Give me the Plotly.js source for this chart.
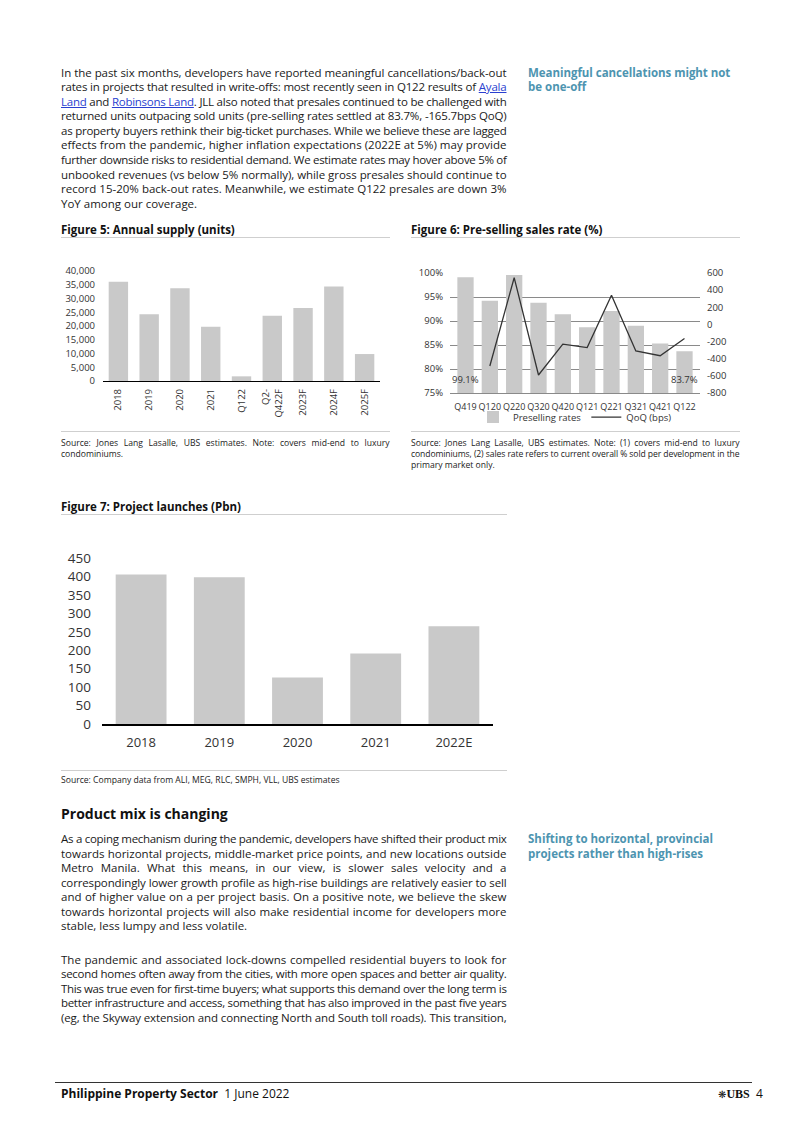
<!DOCTYPE html>
<html>
<head>
<meta charset="utf-8">
<script src="https://cdn.plot.ly/plotly-3.0.1.min.js"></script>
<style>
  html, body { margin:0; padding:0; background:#fff; }
  body { width:802px; height:1134px; position:relative; overflow:hidden; font-family:"Open Sans","Noto Sans",sans-serif; color:#1a1a1a; }
  .abs { position:absolute; }
  .para { position:absolute; font-size:11.5px; }
  .ln { height:14.55px; line-height:14.55px; white-space:nowrap; overflow:visible; }
  .ln > span { white-space:nowrap; }
  .side { position:absolute; font-size:11.5px; font-weight:700; color:#4d94b0; }
  .ftitle { position:absolute; font-size:11.5px; font-weight:700; color:#111; white-space:nowrap; }
  .rule { position:absolute; height:1.5px; background:#cfcfcf; }
  .src { position:absolute; font-size:8.6px; color:#222; }
  .src .ln { height:11px; line-height:11px; }
  a { color:#2a3fd0; text-decoration:underline; }
  .chart { position:absolute; }
</style>
</head>
<body>
<script>
// ---------------- DATA ----------------
const supplyCats = ['2018','2019','2020','2021','Q122','Q2-<br>Q422F','2023F','2024F','2025F'];
const supplyUnits = [36100, 24250, 33700, 19750, 1700, 23750, 26550, 34400, 9800];

const presellQuarters = ['Q419','Q120','Q220','Q320','Q420','Q121','Q221','Q321','Q421','Q122'];
const presellRates = [99.1, 94.2, 99.6, 93.8, 91.4, 88.7, 92.1, 89.0, 85.3, 83.7];
const qoqBps = [null, -485, 545, -590, -230, -270, 340, -310, -365, -165];
const qoqAxisTicks = [600, 400, 200, 0, -200, -400, -600, -800];

const launchYears = ['2018','2019','2020','2021','2022E'];
const launchPbn = [405, 398, 126, 191, 265];
</script>

<!-- Paragraph 1 -->
<div class="para" style="left:61px; top:65.7px; width:446px;">
  <div class="ln j"><span>In the past six months, developers have reported meaningful cancellations/back-out</span></div>
  <div class="ln j"><span>rates in projects that resulted in write-offs: most recently seen in Q122 results of <a>Ayala</a></span></div>
  <div class="ln j"><span><a>Land</a> and <a>Robinsons Land</a>. JLL also noted that presales continued to be challenged with</span></div>
  <div class="ln j"><span>returned units outpacing sold units (pre-selling rates settled at 83.7%, -165.7bps QoQ)</span></div>
  <div class="ln j"><span>as property buyers rethink their big-ticket purchases. While we believe these are lagged</span></div>
  <div class="ln j"><span>effects from the pandemic, higher inflation expectations (2022E at 5%) may provide</span></div>
  <div class="ln j"><span>further downside risks to residential demand. We estimate rates may hover above 5% of</span></div>
  <div class="ln j"><span>unbooked revenues (vs below 5% normally), while gross presales should continue to</span></div>
  <div class="ln j"><span>record 15-20% back-out rates. Meanwhile, we estimate Q122 presales are down 3%</span></div>
  <div class="ln"><span>YoY among our coverage.</span></div>
</div>
<div class="side" style="left:528px; top:65.7px; width:203px;">
  <div class="ln"><span>Meaningful cancellations might not</span></div>
  <div class="ln"><span>be one-off</span></div>
</div>

<!-- Figure 5 / 6 titles -->
<div class="ftitle" style="left:61px; top:222px;">Figure 5: Annual supply (units)</div>
<div class="rule" style="left:61px; top:236.5px; width:329px;"></div>
<div class="ftitle" style="left:411px; top:222px;">Figure 6: Pre-selling sales rate (%)</div>
<div class="rule" style="left:411px; top:236.5px; width:329px;"></div>

<div class="rule" style="left:61px; top:430.5px; width:329px;"></div>
<div class="rule" style="left:411px; top:430.5px; width:329px;"></div>
<div class="src" style="left:61px; top:437.5px; width:329px;">
  <div class="ln j"><span>Source: Jones Lang Lasalle, UBS estimates. Note: covers mid-end to luxury</span></div>
  <div class="ln"><span>condominiums.</span></div>
</div>
<div class="src" style="left:411px; top:437.5px; width:329px;">
  <div class="ln j"><span>Source: Jones Lang Lasalle, UBS estimates. Note: (1) covers mid-end to luxury</span></div>
  <div class="ln j"><span>condominiums, (2) sales rate refers to current overall % sold per development in the</span></div>
  <div class="ln"><span>primary market only.</span></div>
</div>

<!-- Figure 7 -->
<div class="ftitle" style="left:61px; top:499px;">Figure 7: Project launches (Pbn)</div>
<div class="rule" style="left:61px; top:513.5px; width:446px;"></div>
<div class="rule" style="left:61px; top:769.5px; width:446px;"></div>
<div class="src" style="left:61px; top:775px; width:446px;">
  <div class="ln"><span>Source: Company data from ALI, MEG, RLC, SMPH, VLL, UBS estimates</span></div>
</div>

<!-- Product mix section -->
<div class="abs" style="left:61px; top:804px; font-size:14px; font-weight:700; color:#111; white-space:nowrap;">Product mix is changing</div>
<div class="para" style="left:61px; top:832px; width:446px;">
  <div class="ln j"><span>As a coping mechanism during the pandemic, developers have shifted their product mix</span></div>
  <div class="ln j"><span>towards horizontal projects, middle-market price points, and new locations outside</span></div>
  <div class="ln j"><span>Metro Manila. What this means, in our view, is slower sales velocity and a</span></div>
  <div class="ln j"><span>correspondingly lower growth profile as high-rise buildings are relatively easier to sell</span></div>
  <div class="ln j"><span>and of higher value on a per project basis. On a positive note, we believe the skew</span></div>
  <div class="ln j"><span>towards horizontal projects will also make residential income for developers more</span></div>
  <div class="ln"><span>stable, less lumpy and less volatile.</span></div>
</div>
<div class="side" style="left:528px; top:832px; width:203px;">
  <div class="ln"><span>Shifting to horizontal, provincial</span></div>
  <div class="ln"><span>projects rather than high-rises</span></div>
</div>
<div class="para" style="left:61px; top:952.7px; width:446px;">
  <div class="ln j"><span>The pandemic and associated lock-downs compelled residential buyers to look for</span></div>
  <div class="ln j"><span>second homes often away from the cities, with more open spaces and better air quality.</span></div>
  <div class="ln j"><span>This was true even for first-time buyers; what supports this demand over the long term is</span></div>
  <div class="ln j"><span>better infrastructure and access, something that has also improved in the past five years</span></div>
  <div class="ln j"><span>(eg, the Skyway extension and connecting North and South toll roads). This transition,</span></div>
</div>

<!-- Footer -->
<div class="abs" style="left:55px; top:1081.5px; width:697px; height:1px; background:#333;"></div>
<div class="abs" style="left:61px; top:1085px; font-size:12px; white-space:nowrap; color:#111;"><b>Philippine Property Sector</b>&nbsp;&nbsp;1 June 2022</div>
<div class="abs" style="left:718px; top:1085px; font-size:12px; white-space:nowrap; color:#111;"><span style="font-family:'DejaVu Sans'; font-size:10px;">❋</span><span style="font-family:'Liberation Serif'; font-weight:700;">UBS</span>&nbsp; 4</div>

<!-- Charts -->
<div id="fig5" class="chart" style="left:55px; top:245px; width:340px; height:180px;"></div>
<div id="fig6" class="chart" style="left:405px; top:245px; width:345px; height:185px;"></div>
<div id="fig7" class="chart" style="left:55px; top:520px; width:460px; height:245px;"></div>

<script>
// text line fitting: compress with letter-spacing, then justify with word-spacing
document.querySelectorAll('.ln').forEach(el => {
  const sp = el.firstElementChild;
  const W = el.parentElement.clientWidth;
  let w = sp.getBoundingClientRect().width;
  if (w > W) {
    const nch = sp.textContent.length;
    sp.style.letterSpacing = ((W - w) / nch - 0.02) + 'px';
    w = sp.getBoundingClientRect().width;
  }
  if (el.classList.contains('j') && w < W) {
    const n = (sp.textContent.match(/ /g) || []).length;
    if (n > 0) sp.style.wordSpacing = ((W - w - 0.5) / n) + 'px';
  }
});

const FONT = 'Open Sans, Noto Sans, sans-serif';
const barGrey = '#c9c9c9';
const cfg = {staticPlot: true, displayModeBar: false};
const noTicks = {ticks: '', ticklen: 0, tickwidth: 0, tickcolor: 'rgba(0,0,0,0)'};

// Figure 5
Plotly.newPlot('fig5', [{
  type: 'bar', x: supplyCats, y: supplyUnits, marker: {color: barGrey}, hoverinfo: 'skip'
}], {
  width: 340, height: 180,
  margin: {l: 48, r: 15, t: 26, b: 44},
  paper_bgcolor: 'rgba(0,0,0,0)', plot_bgcolor: 'rgba(0,0,0,0)',
  bargap: 0.37, showlegend: false,
  font: {family: FONT, size: 9.5, color: '#333'},
  xaxis: Object.assign({type: 'category', tickangle: -90, showline: true, linecolor: '#000', linewidth: 1.2,
          showgrid: false, tickfont: {size: 9.5}, ticklabelstandoff: 3, automargin: false}, noTicks),
  yaxis: Object.assign({range: [0, 40000], dtick: 5000, tickformat: ',', showgrid: false, zeroline: false,
          showline: false, tickfont: {size: 9.5}, ticklabelstandoff: 7, automargin: false}, noTicks)
}, cfg);

// Figure 6
Plotly.newPlot('fig6', [
  {type: 'bar', name: 'Preselling rates', x: presellQuarters, y: presellRates,
   marker: {color: barGrey}, hoverinfo: 'skip'},
  {type: 'scatter', mode: 'lines', name: 'QoQ (bps)', x: presellQuarters, y: qoqBps, yaxis: 'y2',
   line: {color: '#333', width: 1.3}, hoverinfo: 'skip'}
], {
  width: 345, height: 185,
  margin: {l: 45, r: 50, t: 28.3, b: 36.7},
  paper_bgcolor: 'rgba(0,0,0,0)', plot_bgcolor: 'rgba(0,0,0,0)',
  bargap: 0.33,
  font: {family: FONT, size: 9.5, color: '#333'},
  showlegend: true,
  legend: {orientation: 'h', x: 0.5, xanchor: 'center', xref: 'paper', y: 0.07, yref: 'container',
           yanchor: 'middle', font: {size: 9.5}, bgcolor: 'rgba(0,0,0,0)', itemwidth: 30},
  xaxis: Object.assign({type: 'category', tickangle: 0, showline: true, linecolor: '#8a8a8a', linewidth: 1,
          showgrid: false, tickfont: {size: 9}, ticklabelstandoff: 5, automargin: false}, noTicks),
  yaxis: Object.assign({range: [75, 100], dtick: 5, ticksuffix: '%', showgrid: true, gridcolor: '#8a8a8a',
          gridwidth: 1, zeroline: false, showline: false, ticklabelstandoff: 6, automargin: false}, noTicks),
  yaxis2: Object.assign({overlaying: 'y', side: 'right', range: [-800, 600], tickmode: 'array',
           tickvals: qoqAxisTicks, ticktext: qoqAxisTicks.map(v => String(v)), showgrid: false,
           zeroline: false, showline: false, ticklabelstandoff: 6, automargin: false}, noTicks),
  annotations: [0, presellRates.length - 1].map(i => ({
    x: presellQuarters[i], y: 75, xref: 'x', yref: 'y', yanchor: 'bottom', yshift: 5,
    text: presellRates[i].toFixed(1) + '%', showarrow: false, font: {size: 9.5, color: '#333'}
  }))
}, cfg);

// Figure 7
Plotly.newPlot('fig7', [{
  type: 'bar', x: launchYears, y: launchPbn, marker: {color: barGrey}, hoverinfo: 'skip'
}], {
  width: 460, height: 245,
  margin: {l: 46.7, r: 21.7, t: 37.7, b: 40.7},
  paper_bgcolor: 'rgba(0,0,0,0)', plot_bgcolor: 'rgba(0,0,0,0)',
  bargap: 0.35, showlegend: false,
  font: {family: FONT, size: 13.5, color: '#333'},
  xaxis: Object.assign({type: 'category', showline: true, linecolor: '#000', linewidth: 1.6,
          showgrid: false, tickfont: {size: 13}, ticklabelstandoff: 6, automargin: false}, noTicks),
  yaxis: Object.assign({range: [0, 450], dtick: 50, showgrid: false, zeroline: false, showline: false,
          tickfont: {size: 13.5}, ticklabelstandoff: 10, automargin: false}, noTicks)
}, cfg);
</script>
</body>
</html>
